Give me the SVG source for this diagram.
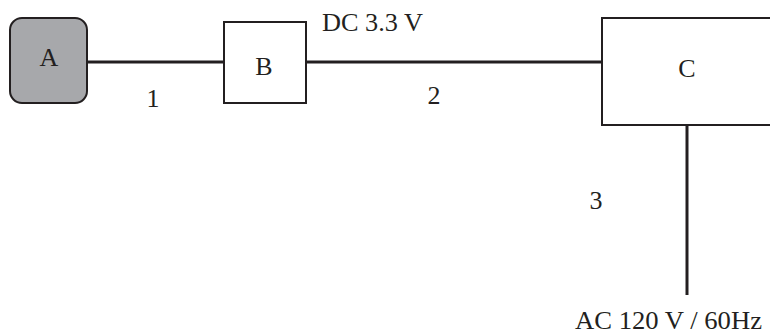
<svg xmlns="http://www.w3.org/2000/svg" width="770" height="336" viewBox="0 0 770 336">
<style>
.t{font-family:'Liberation Serif',serif;font-size:26px;fill:#231f20}
.c{text-anchor:middle}
.box{fill:#fff;stroke:#231f20;stroke-width:2}
.wire{stroke:#231f20;stroke-width:3;fill:none}
</style>
<rect width="770" height="336" fill="#fff"/>
<g id="connectors">
<line class="wire" x1="88" y1="62" x2="224" y2="62"/>
<line class="wire" x1="306" y1="62" x2="602" y2="62"/>
<line class="wire" x1="687" y1="125" x2="687" y2="295"/>
<text class="t c" x="153" y="107">1</text>
<text class="t" x="322" y="31" textLength="101" lengthAdjust="spacingAndGlyphs">DC 3.3 V</text>
<text class="t c" x="434" y="104">2</text>
<text class="t c" x="596" y="209">3</text>
<text class="t" x="575" y="329" style="font-size:25px" textLength="187" lengthAdjust="spacingAndGlyphs">AC 120 V / 60Hz</text>
</g>
<g id="A">
<rect x="10" y="18" width="77" height="85" rx="12" fill="#a7a8ab" stroke="#231f20" stroke-width="2"/>
<text class="t c" x="49" y="66">A</text>
</g>
<g id="B">
<rect class="box" x="224" y="22" width="82" height="81"/>
<text class="t c" x="264" y="75">B</text>
</g>
<g id="C">
<rect class="box" x="602" y="18" width="180" height="107"/>
<text class="t c" x="687" y="77">C</text>
</g>
</svg>
